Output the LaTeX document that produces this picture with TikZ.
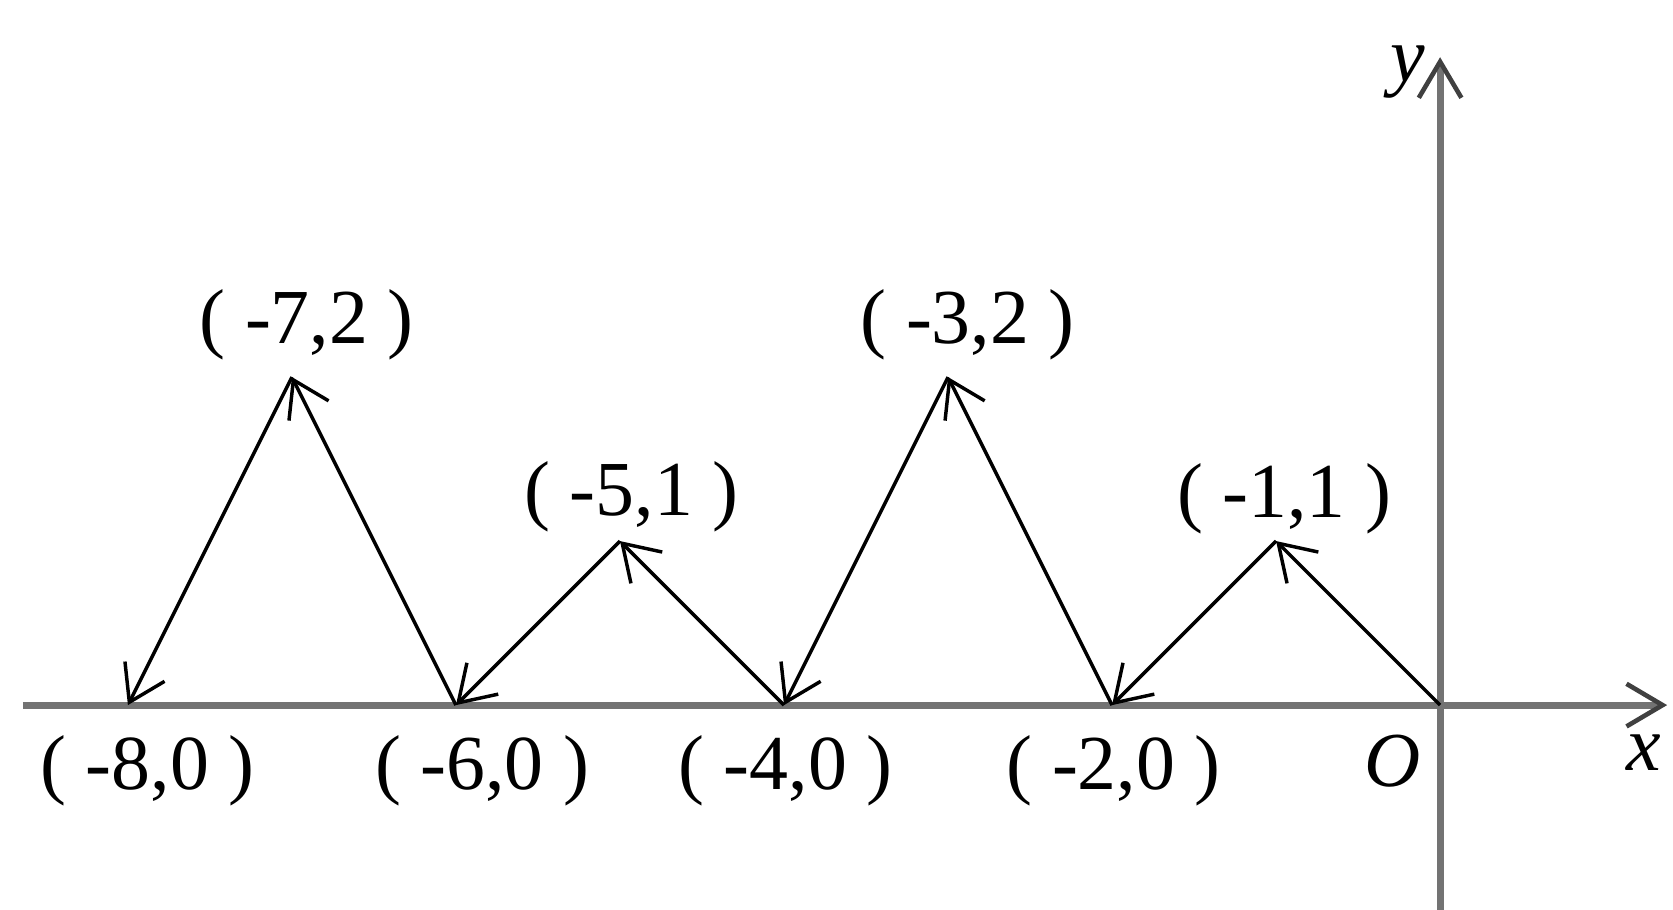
\documentclass[tikz,border=0pt]{standalone}
\usepackage{fontspec}
\setmainfont{Liberation Serif}
\usetikzlibrary{arrows.meta}
\colorlet{axisgray}{black!55}

\begin{document}
\begin{tikzpicture}[
  font=\fontsize{13.5}{16}\selectfont,
  >={Straight Barb[length=2.1mm, width=2.7mm]},
  axis/.style={-{Straight Barb[length=2.2mm, width=2.6mm, line width=0.8pt, color=black!75]},
               line width=1.2pt, draw=axisgray},
  ray/.style={->, line width=0.6pt},
  lab/.style={inner sep=1pt},
]
\useasboundingbox (-8.78,-1.244) rectangle (1.42,4.299);

% ── axes ─────────────────────────────────────────────────────────────────────
\coordinate (O) at (0,0);
\coordinate (xl) at (-8.64,0);
\coordinate (xr) at (1.384,0);
\coordinate (yb) at (0,-1.3);
\coordinate (yt) at (0,3.95);
\draw[axis] (xl) -- (xr);
\draw[axis] (yb) -- (yt);
\node[lab, font=\fontsize{13.5}{16}\selectfont\itshape] (xlab) at (1.24,-0.29) {x};
\node[lab, font=\fontsize{13.5}{16}\selectfont\itshape] (ylab) at (-0.20,3.86) {y};
\node[lab, font=\fontsize{13.5}{16}\selectfont\itshape] (olab) at (-0.29,-0.34) {O};

% ── reflection path ──────────────────────────────────────────────────────────
\foreach \n/\x/\y in {0/0/0, 1/-1/1, 2/-2/0, 3/-3/2, 4/-4/0,
                      5/-5/1, 6/-6/0, 7/-7/2, 8/-8/0}{
  \coordinate (p\n) at (\x,\y);
}
\foreach \a [count=\b] in {0,...,7}{ \draw[ray] (p\a) -- (p\b); }

% point labels
\foreach \nm/\x/\y/\t in {m72/-6.91/2.32/{( -7,2 )}, m51/-4.93/1.27/{( -5,1 )},
                          m32/-2.88/2.32/{( -3,2 )}, m11/-0.95/1.26/{( -1,1 )},
                          m80/-7.88/-0.40/{( -8,0 )}, m60/-5.84/-0.40/{( -6,0 )},
                          m40/-3.99/-0.40/{( -4,0 )}, m20/-1.99/-0.40/{( -2,0 )}}{
  \node[lab] (\nm) at (\x,\y) {\t};
}

\end{tikzpicture}
\end{document}
